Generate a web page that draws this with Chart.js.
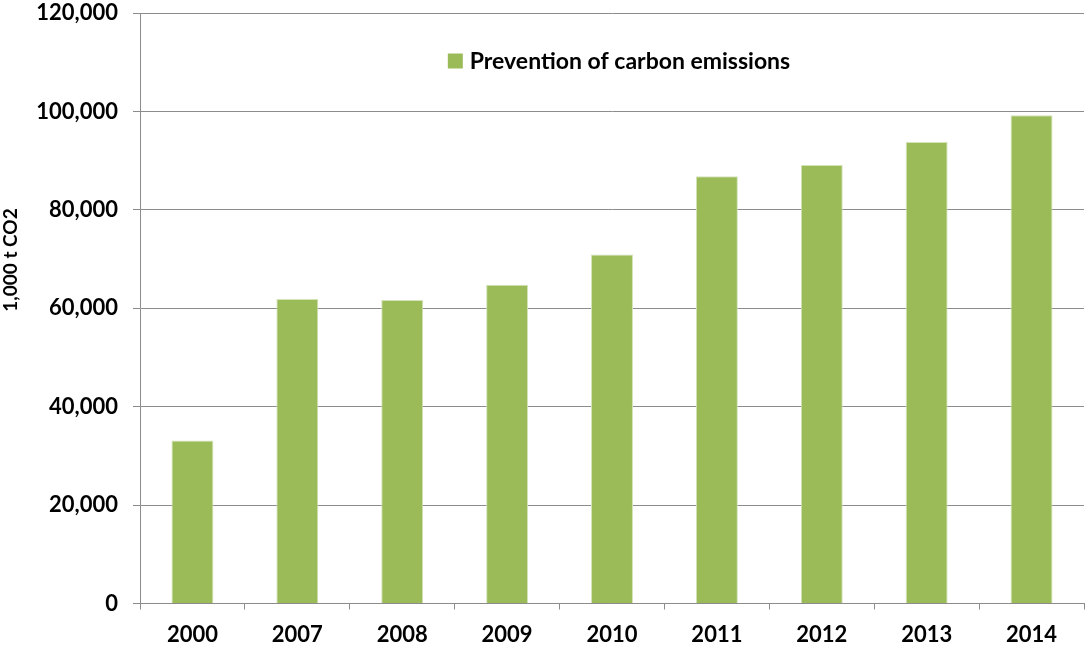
<!DOCTYPE html>
<html>
<head>
<meta charset="utf-8">
<script src="https://cdn.jsdelivr.net/npm/chart.js@4"></script>
<style>
  html, body { margin: 0; padding: 0; background: #fff; }
  #wrap { width: 1086px; height: 652px; }
</style>
</head>
<body>
<div id="wrap"><canvas id="co2Chart" width="1086" height="652"></canvas></div>
<script>
// ================= DATA =================
const years = ["2000","2007","2008","2009","2010","2011","2012","2013","2014"];
const prevention = [33100, 61900, 61700, 64800, 70900, 86800, 89100, 93800, 99200];
const yTicks = [0, 20000, 40000, 60000, 80000, 100000, 120000];

const seriesName = "Prevention of carbon emissions";
const axisTitle = "1,000 t CO2";

const fontFam = "Lato, 'Open Sans', sans-serif";
const gridGrey = "#8c8c8c";

Chart.defaults.font.family = fontFam;
Chart.defaults.color = "#000";

// ================= LEGEND + AXIS TITLE =================
const extras = {
  id: "extras",
  afterDraw(chart){
    const ds = chart.data.datasets[0];
    const area = chart.chartArea;
    const ctx = chart.ctx;
    ctx.save();

    // legend box inside the plot, near the top
    ctx.font = "bold 23px " + fontFam;
    const tw = ctx.measureText(ds.label).width;
    const box = 15, gap = 7;
    const total = box + gap + tw;
    const x0 = (area.left + area.right) / 2 + 7 - total / 2;
    const cy = area.top + 48;
    ctx.fillStyle = ds.backgroundColor;
    ctx.fillRect(x0, cy - box / 2, box, box);
    ctx.fillStyle = "#000";
    ctx.textBaseline = "middle";
    ctx.fillText(ds.label, x0 + box + gap, cy + 1);

    // rotated y title, sits a bit above the middle of the axis
    ctx.translate(11, area.top + 247);
    ctx.rotate(-Math.PI / 2);
    ctx.font = "bold 19px " + fontFam;
    ctx.textAlign = "center";
    ctx.fillText(axisTitle, 0, 0);
    ctx.restore();
  }
};

// ================= CHART =================
new Chart(document.getElementById("co2Chart"), {
  type: "bar",
  data: {
    labels: years,
    datasets: [{
      label: seriesName,
      data: prevention,
      backgroundColor: "#9bbb59",
      borderColor: "#d4e3b8",
      borderWidth: 1,
      barPercentage: 0.8,
      categoryPercentage: 0.5
    }]
  },
  options: {
    responsive: false,
    animation: false,
    layout: { padding: { top: 13, right: 2, bottom: 0, left: 0 } },
    plugins: {
      tooltip: { enabled: false },
      legend: { display: false }
    },
    scales: {
      x: {
        offset: true,
        grid: {
          offset: true,
          drawOnChartArea: false,
          tickLength: 6,
          color: gridGrey
        },
        border: { color: gridGrey },
        ticks: { padding: 12, font: { size: 22, weight: "bold" } },
        afterFit: s => { s.height = 48.5; }
      },
      y: {
        min: 0,
        max: 120000,
        afterBuildTicks: s => { s.ticks = yTicks.map(v => ({ value: v })); },
        grid: { color: gridGrey, tickLength: 7 },
        border: { color: gridGrey },
        ticks: {
          padding: 15,
          font: { size: 22, weight: "bold" },
          callback: v => v.toLocaleString("en-US")
        },
        afterFit: s => {
          s.width = 140;
          s.paddingTop = 0;
          s.paddingBottom = 0;
        }
      }
    }
  },
  plugins: [extras]
});
</script>
</body>
</html>
